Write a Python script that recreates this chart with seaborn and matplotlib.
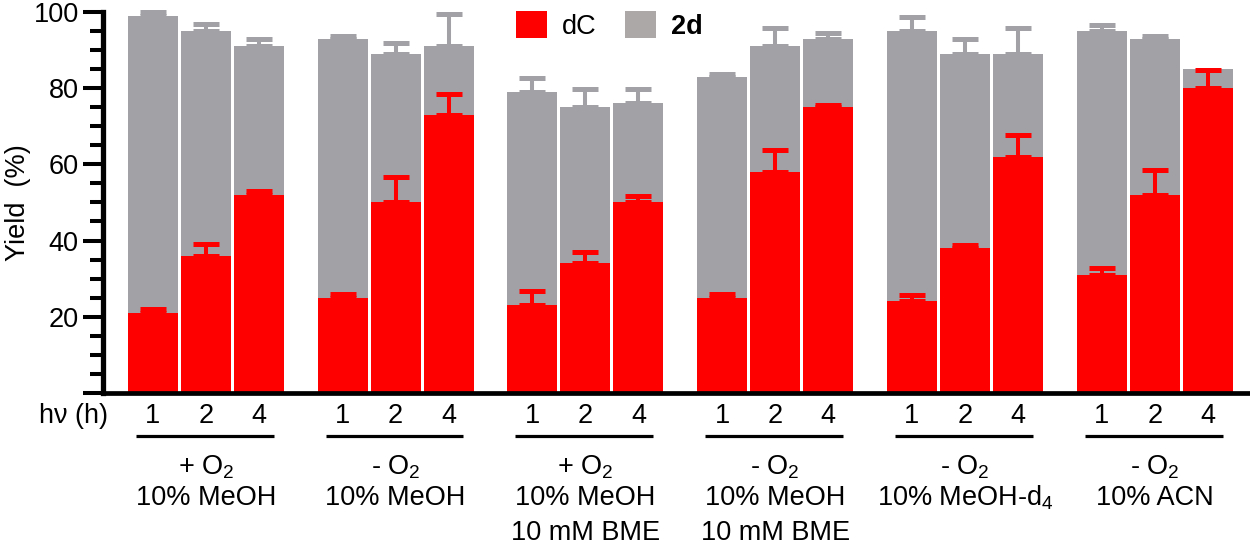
import seaborn as sns
import matplotlib.pyplot as plt
import matplotlib.ticker as mticker
from matplotlib.patches import Patch
import pandas as pd
import numpy as np

# Values
times = ['1', '2', '4']
cond_line1 = ['+ O$_2$', '- O$_2$', '+ O$_2$', '- O$_2$', '- O$_2$', '- O$_2$']
cond_line2 = ['10% MeOH', '10% MeOH', '10% MeOH', '10% MeOH', '10% MeOH-d$_4$', '10% ACN']
cond_line3 = ['', '', '10 mM BME', '10 mM BME', '', '']

total_yield = [99, 95, 91, 93, 89, 91, 79, 75, 76, 83, 91, 93, 95, 89, 89, 95, 93, 85]
total_err = [0.9, 1.8, 1.8, 0.7, 2.8, 8.6, 3.8, 4.9, 3.9, 0.7, 4.7, 1.6, 3.7, 3.9, 6.8, 1.7, 0.6, 0.0]
dC_yield = [21, 36, 52, 25, 50, 73, 23, 34, 50, 25, 58, 75, 24, 38, 62, 31, 52, 80]
dC_err = [0.9, 3.0, 0.9, 0.9, 6.7, 5.6, 3.7, 3.0, 1.7, 1.0, 5.7, 0.6, 1.6, 0.8, 5.7, 1.7, 6.6, 4.8]

RED = '#ff0000'
GRAY = '#a2a2a6'
GRAY_LEG = '#aba8a7'
group_step = 3.58

n_groups = len(cond_line1)
rows = []
for g in range(n_groups):
    for b, t in enumerate(times):
        i = g * len(times) + b
        rows.append({'pos': g * group_step + b, 'time': t,
                     'total': total_yield[i], 'total_err': total_err[i],
                     'dC': dC_yield[i], 'dC_err': dC_err[i]})
df = pd.DataFrame(rows)

sns.set_style('ticks')
plt.rcParams['font.family'] = ['Liberation Sans', 'DejaVu Sans']
plt.rcParams['mathtext.fontset'] = 'custom'
plt.rcParams['mathtext.rm'] = 'Liberation Sans'
plt.rcParams['mathtext.it'] = 'Liberation Sans:italic'
plt.rcParams['mathtext.bf'] = 'Liberation Sans:bold'
plt.rcParams['text.color'] = 'black'
plt.rcParams['axes.edgecolor'] = 'black'
plt.rcParams['axes.labelcolor'] = 'black'
plt.rcParams['xtick.color'] = 'black'
plt.rcParams['ytick.color'] = 'black'
FS = 19.5

fig = plt.figure(figsize=(12.5, 5.46), dpi=100)
ax = fig.add_axes([103 / 1250, 1 - 392.9 / 546, 1145 / 1250, 380.9 / 546])

# stacked look: total (gray) behind, dC (red) in front
sns.barplot(data=df, x='pos', y='total', native_scale=True, orient='x',
            width=0.943, color=GRAY, saturation=1, errorbar=None,
            linewidth=0, ax=ax)
m = df['total_err'] > 0
ax.errorbar(df.loc[m, 'pos'], df.loc[m, 'total'],
            yerr=[np.zeros(m.sum()), df.loc[m, 'total_err']],
            fmt='none', ecolor=GRAY, elinewidth=2.9, capsize=9.4,
            capthick=3.6, clip_on=False, zorder=3)
sns.barplot(data=df, x='pos', y='dC', native_scale=True, orient='x',
            width=0.943, color=RED, saturation=1, errorbar=None,
            linewidth=0, ax=ax)
ax.errorbar(df['pos'], df['dC'], yerr=[np.zeros(len(df)), df['dC_err']],
            fmt='none', ecolor=RED, elinewidth=2.9, capsize=9.4,
            capthick=3.6, clip_on=False, zorder=4)

ax.set_xlim(-0.94, 20.66)
ax.set_ylim(0, 100)
ax.set_xticks([])
ax.set_xlabel('')
ax.yaxis.set_major_locator(mticker.FixedLocator([0, 20, 40, 60, 80, 100]))
ax.yaxis.set_major_formatter(mticker.FuncFormatter(lambda v, p: '' if v == 0 else f'{v:g}'))
ax.yaxis.set_minor_locator(mticker.MultipleLocator(5))
ax.tick_params(axis='y', which='major', length=14.4, width=2.9, labelsize=FS, pad=3)
ax.tick_params(axis='y', which='minor', length=9.6, width=2.9)
sns.despine(ax=ax)
ax.spines['left'].set_linewidth(3.8)
ax.spines['bottom'].set_linewidth(3.4)
ax.set_ylabel('Yield  (%)', fontsize=FS)
ax.yaxis.set_label_coords(-0.063, 0.5)

# labels below the axis
tr = ax.get_xaxis_transform()
ax.text(0.004, -0.06, 'h\u03bd (h)', transform=ax.transAxes, ha='right', va='center', fontsize=FS)
for _, r in df.iterrows():
    ax.text(r['pos'], -0.06, r['time'], transform=tr, ha='center', va='center', fontsize=FS)
for g in range(n_groups):
    x0 = g * group_step
    ax.plot([x0 - 0.32, x0 + 2.28], [-0.113, -0.113], transform=tr, color='black',
            lw=2.3, clip_on=False, solid_capstyle='butt')
    xc = x0 + 1
    ax.text(xc, -0.194, cond_line1[g], transform=tr, ha='center', va='center', fontsize=FS)
    ax.text(xc, -0.276, cond_line2[g], transform=tr, ha='center', va='center', fontsize=FS)
    if cond_line3[g]:
        ax.text(xc, -0.368, cond_line3[g], transform=tr, ha='center', va='center', fontsize=FS)

handles = [Patch(facecolor=RED, edgecolor='none', label='dC'),
           Patch(facecolor=GRAY_LEG, edgecolor='none', label='2d')]
leg = fig.legend(handles=handles, loc='upper left', bbox_to_anchor=(516 / 1250, 1 - 11 / 546),
                 ncol=2, frameon=False, fontsize=FS, handlelength=1.15, handleheight=1.15,
                 handletextpad=0.55, columnspacing=1.05, borderpad=0, borderaxespad=0)
leg.get_texts()[1].set_fontweight('bold')

fig.savefig('out.png', dpi=100)
plt.close(fig)
